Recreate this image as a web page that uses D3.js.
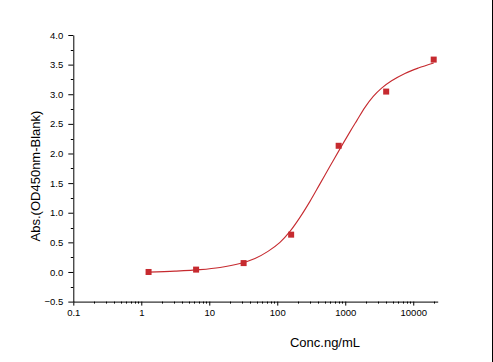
<!DOCTYPE html>
<html>
<head>
<meta charset="utf-8">
<script src="https://cdn.jsdelivr.net/npm/d3@7"></script>
<style>
  body { margin: 0; background: #fff; }
  svg { display: block; }
</style>
</head>
<body>
<div class="chart"></div>
<script>
// Parameters
const width = 493;
const height = 362;
const margin = { top: 35, right: 55.3, bottom: 60.4, left: 73.3 };

// measured points (5-fold dilutions)
const conc = [1.28, 6.4, 32, 160, 800, 4000, 20000];
const absValues = [0.0, 0.04, 0.15, 0.63, 2.13, 3.045, 3.585];

// fitted curve
const fitConc = [1.28, 3.13, 7.3, 14.4, 28.3, 47, 73, 109.6, 153.8, 215.7, 302.7, 424.6, 595.7, 835.6, 1172, 1486, 1950, 2582, 3428, 4808, 7551, 11860, 20000];
const fitAbs = [-0.003, 0.014, 0.039, 0.076, 0.143, 0.228, 0.348, 0.500, 0.685, 0.922, 1.192, 1.487, 1.783, 2.078, 2.365, 2.559, 2.779, 2.964, 3.104, 3.228, 3.352, 3.442, 3.528];

const xTicks = [0.1, 1, 10, 100, 1000, 10000];
const xTickLabels = ['0.1', '1', '10', '100', '1000', '10000'];
const yTicks = [-0.5, 0, 0.5, 1, 1.5, 2, 2.5, 3, 3.5, 4];

const red = '#c62a2f';

const svg = d3.select('.chart')
    .append('svg')
    .attr('width', width)
    .attr('height', height)
    .attr('style', 'font-family: Arial, "Liberation Sans", sans-serif');

const scaleX = d3.scaleLog()
    .domain([0.1, 22900])
    .range([margin.left, width - margin.right]);

const scaleY = d3.scaleLinear()
    .domain([-0.5, 4])
    .range([height - margin.bottom, margin.top]);

const y0 = height - margin.bottom;

// x axis
const xAxis = svg.append('g')
    .attr('transform', `translate(0, ${y0})`)
    .call(d3.axisBottom(scaleX)
        .tickValues(xTicks)
        .tickFormat((d, i) => xTickLabels[i])
        .tickSize(4)
        .tickPadding(4)
        .tickSizeOuter(0));

// minor x ticks
const xMinor = [];
for (let dec = 0.1; dec <= 10000; dec *= 10) {
    for (let k = 2; k <= 9; k++) {
        const v = dec * k;
        if (v <= scaleX.domain()[1]) xMinor.push(v);
    }
}
xAxis.selectAll('.minor')
    .data(xMinor)
    .join('line')
    .attr('class', 'minor')
    .attr('x1', d => Math.round(scaleX(d)) + 0.5)
    .attr('x2', d => Math.round(scaleX(d)) + 0.5)
    .attr('y1', 0)
    .attr('y2', 2)
    .attr('stroke', '#000');

// y axis
const yAxis = svg.append('g')
    .attr('transform', `translate(${margin.left}, 0)`)
    .call(d3.axisLeft(scaleY)
        .tickValues(yTicks)
        .tickFormat(d3.format('.1f'))
        .tickSize(5)
        .tickPadding(5)
        .tickSizeOuter(0));

const yMinor = yTicks.slice(0, -1).map(d => d + 0.25);
yAxis.selectAll('.minor')
    .data(yMinor)
    .join('line')
    .attr('class', 'minor')
    .attr('x1', -2.5)
    .attr('x2', 0)
    .attr('y1', d => Math.round(scaleY(d)) + 0.5)
    .attr('y2', d => Math.round(scaleY(d)) + 0.5)
    .attr('stroke', '#000');

svg.selectAll('.tick text')
    .style('font-size', '9.5px')
    .style('fill', '#000');
svg.selectAll('.domain, .tick line').attr('stroke', '#000');

// axis titles
svg.append('text')
    .attr('x', 325)
    .attr('y', 347)
    .attr('text-anchor', 'middle')
    .style('font-size', '13px')
    .text('Conc.ng/mL');

svg.append('text')
    .attr('transform', 'translate(40, 176) rotate(-90)')
    .attr('text-anchor', 'middle')
    .style('font-size', '13px')
    .text('Abs.(OD450nm-Blank)');

// fitted curve
const fitData = fitConc.map((c, i) => ({ c: c, v: fitAbs[i] }));
const line = d3.line()
    .x(d => scaleX(d.c))
    .y(d => scaleY(d.v))
    .curve(d3.curveCatmullRom.alpha(0.5));

svg.append('path')
    .datum(fitData)
    .attr('d', line)
    .attr('fill', 'none')
    .attr('stroke', red)
    .attr('stroke-width', 1.1);

// points
const points = conc.map((c, i) => ({ c: c, v: absValues[i] }));
svg.append('g')
    .selectAll('rect')
    .data(points)
    .join('rect')
    .attr('x', d => scaleX(d.c) - 3)
    .attr('y', d => scaleY(d.v) - 3)
    .attr('width', 6)
    .attr('height', 6)
    .style('fill', red);

// right frame edge
svg.append('line')
    .attr('x1', width - 0.5)
    .attr('x2', width - 0.5)
    .attr('y1', 0)
    .attr('y2', height)
    .attr('stroke', '#000');
</script>
</body>
</html>
